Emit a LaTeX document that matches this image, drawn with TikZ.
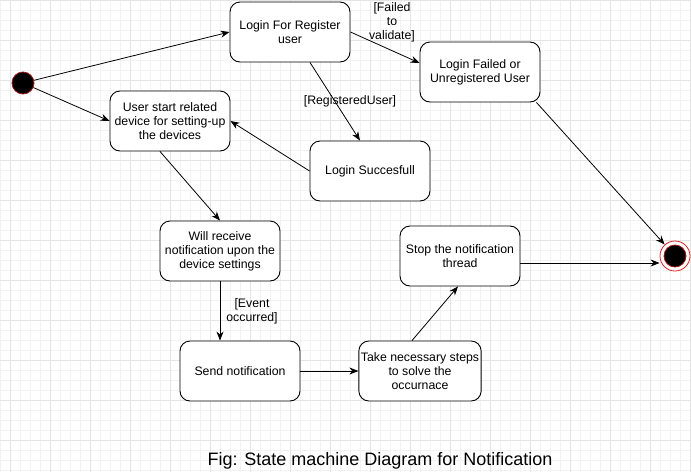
\documentclass[tikz,border=0pt]{standalone}
\usepackage{fontspec}
\setmainfont{Liberation Sans}
\usetikzlibrary{positioning, arrows.meta, calc}
\definecolor{gridlo}{HTML}{F2F2F2}
\definecolor{gridhi}{HTML}{E4E4E4}
\definecolor{ringred}{HTML}{E02020}

\begin{document}
\begin{tikzpicture}[
                x=1pt, y=-1pt,
                state/.style={draw, rounded corners=10pt, line width=0.9pt, fill=white,
                              minimum width=120pt, minimum height=60pt, align=center,
                              font=\fontsize{12.3}{14}\selectfont, inner sep=2pt},
                startdot/.style={circle, fill=black, draw=ringred!70!black, line width=0.8pt,
                                 minimum size=22pt, inner sep=0pt},
                endring/.style={circle, fill=white, draw=ringred, line width=0.8pt,
                                minimum size=30pt, inner sep=0pt},
                guard/.style={align=center, font=\fontsize{12.3}{14}\selectfont, inner sep=0pt},
                arr/.style={-{Stealth[length=9pt, width=7pt]}, line width=0.8pt},
                gridminor/.style={gridlo, line width=0.5pt},
                gridmajor/.style={gridhi, line width=0.5pt},
            ]
                \useasboundingbox (0,0) rectangle (691,472);
                \fill[white] (0,0) rectangle (691,472);

                % Background grid
                \foreach \gx in {0,10,...,690} {
                    \draw[gridminor] (\gx,0) -- (\gx,472);
                }
                \foreach \gy in {0,10,...,470} {
                    \draw[gridminor] (0,\gy) -- (691,\gy);
                }
                \foreach \gx in {10,50,...,690} {
                    \draw[gridmajor] (\gx,0) -- (\gx,472);
                }
                \foreach \gy in {0,40,...,470} {
                    \draw[gridmajor] (0,\gy) -- (691,\gy);
                }

                % States
                \node[startdot] (init) at (23,83) {};
                \node[state] (login) at (290,32) {Login For Register\\user};
                \node[state] (failed) at (480,72) {Login Failed or\\Unregistered User};
                \node[state] (start) at (170,121) {User start related\\device for setting-up\\the devices};
                \node[state] (success) at (370,171) {Login Succesfull};
                \node[state] (receive) at (220,251) {Will receive\\notification upon the\\device settings};
                \node[state] (stop) at (460,256) {Stop the notification\\thread};
                \node[state] (send) at (240,371) {Send notification};
                \node[state] (steps) at (420,371) {Take necessary steps\\to solve the\\occurnace};
                \node[endring] (final) at (675,256) {};
                \node[startdot] (finaldot) at (final) {};

                % Transitions
                \draw[arr] (init) -- (login.west);
                \draw[arr] (init) -- (start.west);
                \draw[arr] (login.east) -- ([yshift=9pt]failed.west);
                \draw[arr] ([xshift=20pt]login.south) -- ([xshift=-10pt]success.north);
                \draw[arr] (success.west) -- (start.east);
                \draw[arr] ([xshift=-10pt]start.south) -- (receive.north);
                \draw[arr] (receive.south) -- (receive.south |- send.north);
                \draw[arr] (send.east) -- (steps.west);
                \draw[arr] ([xshift=-8pt]steps.north) -- ([xshift=-2pt]stop.south);
                \draw[arr] ([yshift=-7pt]stop.east) -- ([yshift=-7pt]stop.east -| final.west);
                \draw[arr] ([xshift=-4pt]failed.south east) -- (final);

                % Guards
                \node[guard] (gfail) at (392,22) {[Failed\\to\\validate]};
                \node[guard] (greg) at (350,101) {[RegisteredUser]};
                \node[guard] (gevent) at (252,311) {[Event\\occurred]};

                % Caption
                \node[font=\fontsize{18}{22}\selectfont] (caption) at (380,461) {Fig: State machine Diagram for Notification};
            \end{tikzpicture}
\end{document}
